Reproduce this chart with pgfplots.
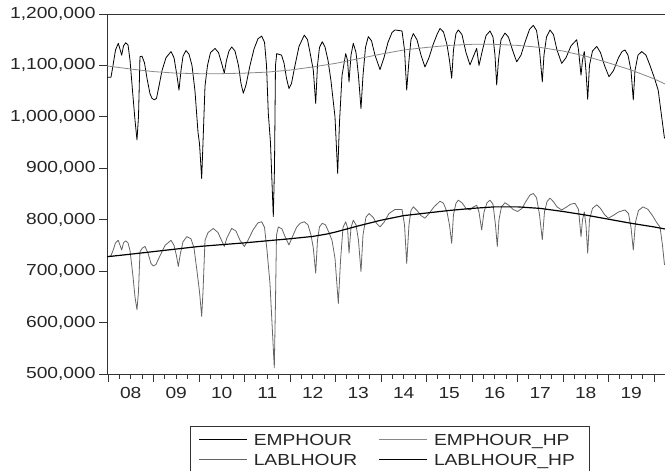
\documentclass[border=0pt]{standalone}
\usepackage{fontspec}
\setmainfont{Liberation Sans}[FakeStretch=1.2]
\usepackage{pgfplots}
\pgfplotsset{compat=1.18}
\definecolor{hpgray}{RGB}{135,135,135}
\definecolor{lgray}{RGB}{100,100,100}
\begin{document}
\begin{tikzpicture}[font=\fontsize{16bp}{19bp}\selectfont]
\useasboundingbox (0,0) rectangle (665bp,471bp);
\begin{axis}[
  at={(107bp,97bp)}, anchor=south west,
  scale only axis, width=558bp, height=360bp,
  xmin=2007.978, xmax=2020.242, ymin=500000, ymax=1200000,
  scaled x ticks=false, scaled y ticks=false,
  axis line style={black!80, line width=0.9bp},
  tick align=outside, tick pos=left,
  tick style={black!80, line width=0.8bp},
  major tick length=8bp, minor tick length=4.5bp,
  /pgf/number format/assume math mode=true,
  ticklabel style={text=black!85},
  ytick={500000,600000,700000,800000,900000,1000000,1100000,1200000},
  yticklabels={{500,000},{600,000},{700,000},{800,000},{900,000},{1,000,000},{1,100,000},{1,200,000}},
  xtick={2008,2009,...,2020}, xticklabels={},
  minor xtick={2008,2008.25,...,2020.25},
  extra x ticks={2008.5,2009.5,2010.5,2011.5,2012.5,2013.5,2014.5,2015.5,2016.5,2017.5,2018.5,2019.5},
  extra x tick labels={08,09,10,11,12,13,14,15,16,17,18,19},
  extra x tick style={major tick length=0pt, xticklabel style={yshift=-10bp}},
  legend columns=2,
  legend style={at={(axis description cs:0.5063,-0.1436)}, anchor=north,
    draw=black!80, line width=0.8bp, inner xsep=9bp, inner ysep=7.35bp,
    column sep=0pt, row sep=7.5bp, cells={anchor=west},
    nodes={inner sep=0pt, text height=12bp, text depth=0.5bp, align=left, text=black!85}},
  legend image code/.code={\draw[#1] (0bp,0bp) -- (48bp,0bp); \path (54bp,0bp);},
  every axis plot/.append style={line join=round},
]
\addplot[black, line width=0.8bp] table {
2007.978 1077000
2008.066 1077000
2008.110 1100000
2008.165 1130000
2008.226 1143000
2008.301 1120000
2008.341 1138000
2008.389 1144000
2008.440 1140000
2008.484 1110000
2008.549 1040000
2008.593 994000
2008.637 955000
2008.670 1000000
2008.703 1117000
2008.747 1118000
2008.802 1105000
2008.857 1075000
2008.923 1045000
2008.967 1036000
2009.018 1033000
2009.066 1036000
2009.121 1060000
2009.187 1090000
2009.275 1115000
2009.385 1127000
2009.451 1115000
2009.516 1080000
2009.560 1052000
2009.604 1090000
2009.648 1118000
2009.714 1129000
2009.780 1122000
2009.846 1100000
2009.912 1050000
2009.978 970000
2010.011 948000
2010.059 880000
2010.088 950000
2010.132 1060000
2010.187 1100000
2010.253 1125000
2010.352 1133000
2010.429 1125000
2010.495 1105000
2010.556 1085000
2010.604 1110000
2010.659 1128000
2010.719 1136000
2010.791 1128000
2010.868 1100000
2010.923 1065000
2010.974 1046000
2011.033 1062000
2011.121 1100000
2011.209 1132000
2011.297 1152000
2011.378 1157000
2011.440 1145000
2011.484 1100000
2011.523 1007000
2011.571 950000
2011.633 806000
2011.659 900000
2011.681 1100000
2011.708 1123000
2011.813 1120000
2011.868 1105000
2011.923 1075000
2011.978 1055000
2012.033 1065000
2012.110 1100000
2012.198 1137000
2012.314 1159000
2012.385 1150000
2012.451 1120000
2012.512 1091000
2012.565 1026000
2012.604 1100000
2012.648 1135000
2012.710 1146000
2012.769 1136000
2012.835 1110000
2012.901 1070000
2012.989 1000000
2013.048 890000
2013.088 990000
2013.143 1080000
2013.224 1123000
2013.264 1110000
2013.297 1068000
2013.341 1120000
2013.391 1143000
2013.451 1125000
2013.505 1080000
2013.560 1016000
2013.604 1080000
2013.659 1135000
2013.721 1156000
2013.791 1148000
2013.868 1120000
2013.978 1092000
2014.066 1115000
2014.154 1145000
2014.242 1164000
2014.308 1169000
2014.462 1167000
2014.517 1130000
2014.565 1052000
2014.615 1110000
2014.659 1150000
2014.710 1162000
2014.791 1150000
2014.879 1120000
2014.967 1097000
2015.055 1115000
2015.143 1140000
2015.231 1160000
2015.297 1172000
2015.374 1165000
2015.451 1140000
2015.505 1110000
2015.554 1075000
2015.593 1130000
2015.648 1162000
2015.699 1169000
2015.780 1160000
2015.868 1125000
2015.956 1101000
2016.033 1118000
2016.103 1133000
2016.154 1100000
2016.231 1130000
2016.308 1158000
2016.396 1167000
2016.462 1155000
2016.505 1120000
2016.543 1062000
2016.582 1110000
2016.637 1150000
2016.725 1163000
2016.802 1155000
2016.890 1130000
2016.982 1107000
2017.077 1120000
2017.176 1148000
2017.264 1170000
2017.347 1178000
2017.418 1168000
2017.484 1130000
2017.545 1068000
2017.582 1120000
2017.637 1155000
2017.714 1169000
2017.791 1160000
2017.868 1130000
2017.971 1104000
2018.066 1115000
2018.176 1138000
2018.301 1150000
2018.341 1130000
2018.396 1081000
2018.429 1110000
2018.468 1127000
2018.505 1090000
2018.543 1034000
2018.582 1100000
2018.648 1128000
2018.741 1137000
2018.824 1125000
2018.912 1100000
2019.011 1078000
2019.110 1090000
2019.220 1115000
2019.297 1127000
2019.363 1130000
2019.429 1120000
2019.495 1090000
2019.545 1033000
2019.582 1090000
2019.648 1120000
2019.730 1127000
2019.824 1120000
2019.912 1100000
2020.011 1075000
2020.092 1052000
2020.154 1010000
2020.231 958000
};
\addlegendentry[text width=125bp]{EMPHOUR}
\addplot[hpgray, line width=0.8bp] table {
2007.978 1099000
2008.5 1093000
2009.0 1088000
2009.5 1085000
2010.0 1084000
2010.5 1084000
2011.0 1085000
2011.5 1087000
2012.0 1091000
2012.5 1097000
2013.0 1104000
2013.5 1113000
2014.0 1122000
2014.5 1130000
2015.0 1135000
2015.5 1139000
2016.0 1141000
2016.5 1141000
2017.0 1139000
2017.5 1135000
2018.0 1128000
2018.5 1118000
2019.0 1105000
2019.5 1091000
2020.0 1074000
2020.242 1064000
};
\addlegendentry[text width=146bp]{EMPHOUR\_HP}
\addplot[lgray, line width=0.8bp] table {
2007.978 728000
2008.066 730000
2008.110 740000
2008.165 755000
2008.226 760000
2008.301 741000
2008.341 755000
2008.389 759000
2008.440 755000
2008.484 740000
2008.549 690000
2008.593 650000
2008.637 625000
2008.670 660000
2008.703 738000
2008.758 745000
2008.813 748000
2008.879 735000
2008.945 715000
2008.996 710000
2009.055 713000
2009.143 730000
2009.253 750000
2009.385 760000
2009.451 750000
2009.505 730000
2009.545 709000
2009.593 735000
2009.648 757000
2009.730 767000
2009.824 763000
2009.890 745000
2009.956 700000
2010.011 660000
2010.059 612000
2010.088 660000
2010.132 760000
2010.198 775000
2010.314 783000
2010.418 775000
2010.495 760000
2010.556 748000
2010.615 765000
2010.719 783000
2010.813 778000
2010.901 760000
2010.996 748000
2011.077 760000
2011.187 780000
2011.297 794000
2011.378 796000
2011.440 785000
2011.495 740000
2011.560 676000
2011.604 600000
2011.655 512000
2011.681 640000
2011.703 770000
2011.743 786000
2011.824 782000
2011.901 765000
2011.978 751000
2012.044 765000
2012.143 785000
2012.220 793000
2012.314 796000
2012.396 790000
2012.462 770000
2012.512 745000
2012.565 696000
2012.604 760000
2012.648 786000
2012.710 793000
2012.780 790000
2012.857 775000
2012.923 760000
2012.989 725000
2013.062 637000
2013.110 720000
2013.165 785000
2013.224 796000
2013.264 785000
2013.297 735000
2013.341 785000
2013.391 799000
2013.451 790000
2013.505 760000
2013.560 699000
2013.604 770000
2013.670 805000
2013.736 812000
2013.824 805000
2013.901 793000
2013.978 786000
2014.066 795000
2014.176 812000
2014.308 820000
2014.462 820000
2014.517 790000
2014.565 715000
2014.615 790000
2014.659 818000
2014.710 825000
2014.791 818000
2014.879 808000
2014.967 803000
2015.055 812000
2015.165 825000
2015.297 836000
2015.374 832000
2015.451 815000
2015.505 790000
2015.554 754000
2015.593 810000
2015.648 832000
2015.699 838000
2015.780 833000
2015.868 822000
2015.956 819000
2016.033 825000
2016.103 828000
2016.154 815000
2016.213 780000
2016.264 815000
2016.330 833000
2016.396 838000
2016.462 830000
2016.516 790000
2016.556 748000
2016.593 800000
2016.648 825000
2016.725 833000
2016.813 828000
2016.901 820000
2017.004 816000
2017.099 822000
2017.187 836000
2017.275 848000
2017.347 851000
2017.418 843000
2017.484 810000
2017.545 761000
2017.593 815000
2017.648 835000
2017.714 842000
2017.791 835000
2017.868 825000
2017.971 819000
2018.066 824000
2018.165 830000
2018.264 832000
2018.341 820000
2018.396 767000
2018.429 800000
2018.468 815000
2018.505 790000
2018.543 735000
2018.582 800000
2018.648 822000
2018.741 829000
2018.824 822000
2018.912 810000
2018.996 803000
2019.099 808000
2019.220 815000
2019.363 819000
2019.440 812000
2019.495 785000
2019.545 741000
2019.593 795000
2019.659 818000
2019.758 825000
2019.868 820000
2019.967 808000
2020.055 795000
2020.132 786000
2020.187 750000
2020.231 712000
};
\addlegendentry[text width=125bp]{LABLHOUR}
\addplot[black, line width=1.2bp] table {
2007.978 728000
2008.5 733000
2009.0 738000
2009.5 743000
2010.0 748000
2010.5 751500
2011.0 755000
2011.5 759000
2012.0 763000
2012.5 767500
2012.8 772000
2013.0 776000
2013.5 788000
2014.0 799000
2014.5 808000
2015.0 813000
2015.3 816000
2015.5 818000
2016.0 822000
2016.5 825000
2017.0 825000
2017.5 822000
2018.0 816000
2018.5 809000
2019.0 801000
2019.5 793000
2020.0 786000
2020.242 782000
};
\addlegendentry[text width=146bp]{LABLHOUR\_HP}
\end{axis}
\end{tikzpicture}
\end{document}
